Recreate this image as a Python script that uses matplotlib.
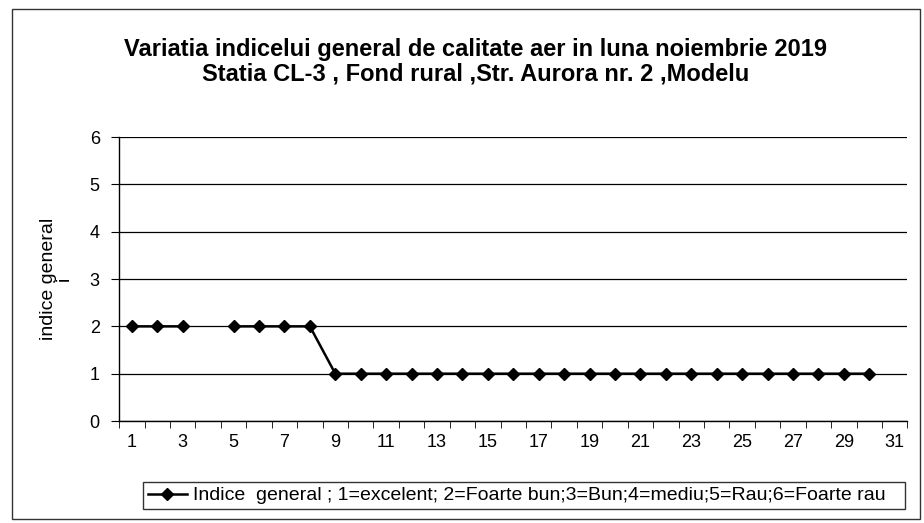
import numpy as np
import matplotlib
matplotlib.use("Agg")
import matplotlib.pyplot as plt
from matplotlib.patches import Rectangle

plt.rcParams['font.family'] = ['Liberation Sans', 'DejaVu Sans']

days = list(range(1, 32))
values = [2, 2, 2, np.nan, 2, 2, 2, 2, 1, 1, 1, 1, 1, 1, 1, 1, 1, 1, 1, 1,
          1, 1, 1, 1, 1, 1, 1, 1, 1, 1, np.nan]
xtick_labels = [str(d) for d in range(1, 32, 2)]
yticks = [0, 1, 2, 3, 4, 5, 6]

title = ("Variatia indicelui general de calitate aer in luna noiembrie 2019\n"
         "Statia CL-3 , Fond rural ,Str. Aurora nr. 2 ,Modelu")
legend_label = "Indice  general ; 1=excelent; 2=Foarte bun;3=Bun;4=mediu;5=Rau;6=Foarte rau"

fig = plt.figure(figsize=(9.24, 5.23), dpi=100)
fig.patch.set_facecolor('white')
fig.patches.append(Rectangle((0.013, 0.008), 0.983, 0.975, transform=fig.transFigure,
                             fill=False, edgecolor='#333333', linewidth=1.0))

ax = fig.add_axes([0.129, 0.195, 0.853, 0.543])
x = np.arange(len(days))
ax.plot(x, values, color='black', marker='D', markersize=6.5, linewidth=1.8,
        label=legend_label, zorder=3)
ax.set_xlim(-0.5, len(days) - 0.5)
ax.set_ylim(0, 6)
ax.set_yticks(yticks)
ax.set_xticks(x[::2])
ax.set_xticklabels(xtick_labels, fontsize=13)
ax.set_xticks(np.arange(-0.5, len(days), 1), minor=True)
ax.tick_params(axis='x', which='major', length=0, pad=9)
ax.tick_params(axis='x', which='minor', length=5, direction='out', color='black')
ax.tick_params(axis='y', labelsize=13, length=6, direction='out', pad=8)
ax.yaxis.grid(True, color='black', linewidth=0.9)
ax.set_axisbelow(True)
for s in ['top', 'right']:
    ax.spines[s].set_visible(False)
ax.spines['left'].set_linewidth(1.0)
ax.spines['bottom'].set_linewidth(1.0)
ax.set_ylabel("indice general\ni", fontsize=14, labelpad=12, linespacing=0.9)

fig.text(0.515, 0.882, title, ha='center', va='center', fontsize=17, fontweight='bold',
         linespacing=1.1)

leg = fig.legend(loc='center', bbox_to_anchor=(143 / 924, 13 / 523, 762 / 924, 29 / 523),
                 mode='expand', fontsize=14, frameon=True, fancybox=False,
                 edgecolor='black', handlelength=2.0, handletextpad=0.3,
                 borderpad=0.25, borderaxespad=0.0)
leg.get_frame().set_linewidth(1.0)

fig.savefig("out.png", dpi=100, facecolor='white')
